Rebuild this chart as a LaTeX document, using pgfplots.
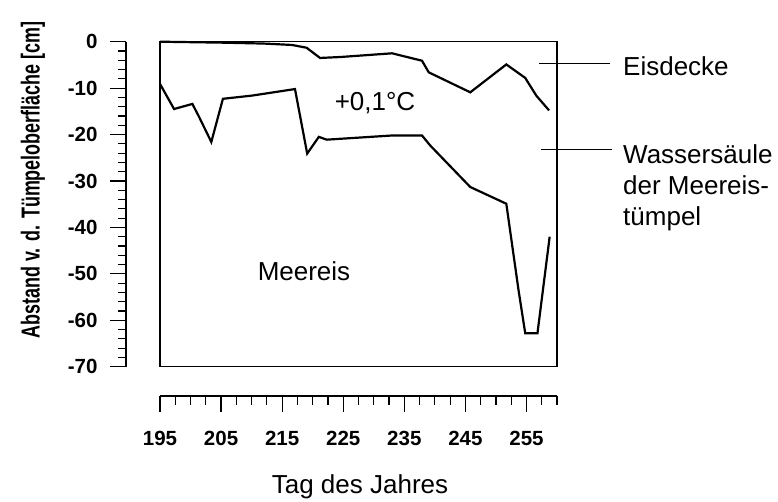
\documentclass[border=0pt]{standalone}
\usepackage{fontspec}
\setmainfont{Liberation Sans}
\usepackage{pgfplots}
\pgfplotsset{compat=1.18}

% top of the ice cover and bottom of the pond water column [cm]
\pgfplotstableread{
day   depth
195    0
205   -0.2
212   -0.4
216.6 -0.7
219   -1.3
221.2 -3.5
224.5 -3.3
233   -2.5
237.9 -4.1
239   -6.6
245.8 -10.9
251.7 -4.9
254.8 -7.8
256.6 -11.6
258.7 -14.8
}\eisdecke

\pgfplotstableread{
day   depth
195   -9.1
197.3 -14.5
200.3 -13.4
201.4 -16.2
203.4 -21.6
205.3 -12.3
210.1 -11.6
217.1 -10.2
219.1 -24.1
221   -20.5
222.3 -21.1
233   -20.2
237.9 -20.2
239.2 -22.3
245.8 -31.3
251.7 -34.9
253.7 -53.5
254.8 -62.8
256.8 -62.8
258.8 -42
}\wassersaeule

\newcommand{\bigfont}{\fontsize{26}{31}\selectfont}
\newcommand{\tickfont}{\fontsize{20.5}{24}\selectfont\bfseries}

\begin{document}
\begin{tikzpicture}[x=1pt,y=1pt]
\useasboundingbox (0,0) rectangle (778,501);

% framed data area
\begin{axis}[
  at={(160pt,134.3pt)}, anchor=south west,
  scale only axis, width=397pt, height=325pt,
  xmin=195, xmax=260, ymin=-70, ymax=0,
  xtick=\empty, ytick=\empty,
  axis line style={line width=1.4pt},
  clip=false,
]
\addplot[black, line width=2.2pt] table[x=day,y=depth] {\eisdecke};
\addplot[black, line width=2.2pt] table[x=day,y=depth] {\wassersaeule};
\end{axis}

% detached depth axis
\begin{axis}[
  at={(126pt,134.3pt)}, anchor=south west,
  scale only axis, width=10pt, height=325pt,
  xmin=0, xmax=1, ymin=-70, ymax=0,
  axis x line=none, axis y line=left,
  y axis line style={-, line width=1.4pt},
  ytick={-70,-60,...,0}, minor y tick num=4,
  tick align=outside, major tick length=16pt, minor tick length=8pt,
  tick style={black, line width=1.2pt},
  yticklabels={{-70},{-60},{-50},{-40},{-30},{-20},{-10},{0}},
  yticklabel style={font=\tickfont, anchor=east, xshift=-9pt},
]
\addplot[draw=none] coordinates {(0,-70)};
\end{axis}

% detached day axis
\begin{axis}[
  at={(160pt,105pt)}, anchor=south west,
  scale only axis, width=397pt, height=10pt,
  xmin=195, xmax=260, ymin=0, ymax=1,
  axis y line=none, axis x line=bottom,
  x axis line style={-, line width=1.4pt},
  xtick={195,205,...,255},
  minor xtick={197.5,200,...,260},
  tick align=outside, major tick length=15.7pt, minor tick length=9pt,
  tick style={black, line width=1.2pt},
  xticklabels={195,205,215,225,235,245,255},
  xticklabel style={font=\tickfont, anchor=center, yshift=-27pt},
]
\addplot[draw=none] coordinates {(195,0)};
\end{axis}

% labels
\node[rotate=90, font=\fontsize{26}{30}\selectfont\bfseries, inner sep=0pt]
  at (33,321) {\scalebox{0.69}[1]{Abstand v. d. Tümpeloberfläche [cm]}};
\node[font=\bigfont, anchor=base] at (360,8) {Tag des Jahres};
\node[font=\bigfont, anchor=base] at (375,390.3) {+0,1°C};
\node[font=\bigfont, anchor=base] at (304,220.3) {Meereis};

\draw[line width=0.9pt] (539,437.7) -- (610,437.7);
\draw[line width=0.9pt] (541,352) -- (612,352);
\node[font=\bigfont, anchor=base west, inner sep=0pt] at (623,425) {Eisdecke};
\node[font=\bigfont, anchor=base west, inner sep=0pt] at (623,337) {Wassersäule};
\node[font=\bigfont, anchor=base west, inner sep=0pt] at (623,306) {der Meereis-};
\node[font=\bigfont, anchor=base west, inner sep=0pt] at (623,275) {tümpel};
\end{tikzpicture}
\end{document}
